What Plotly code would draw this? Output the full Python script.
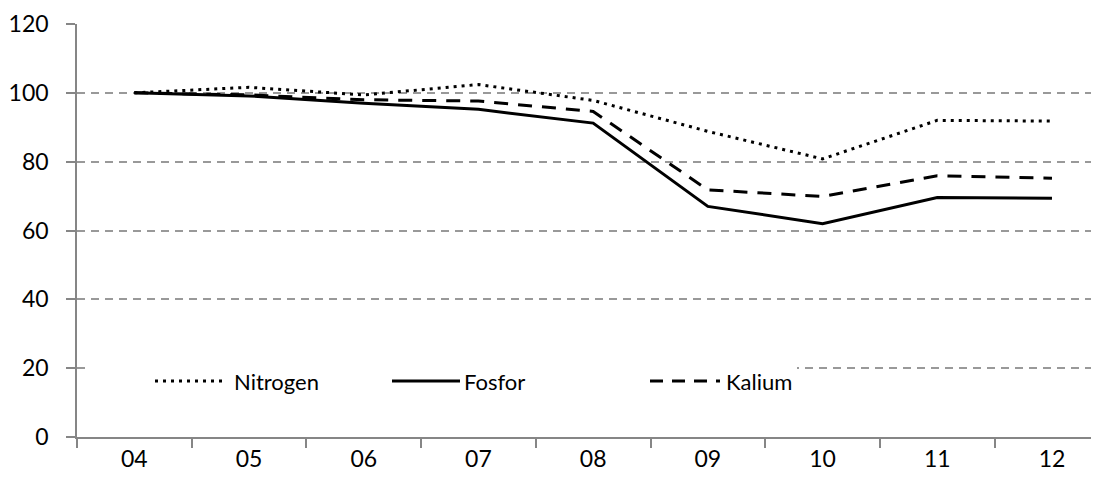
import plotly.graph_objects as go

years = ["04", "05", "06", "07", "08", "09", "10", "11", "12"]
nitrogen = [100, 101.6, 99.4, 102.4, 97.8, 88.8, 80.8, 92.0, 91.8]
fosfor = [100, 99.1, 97.0, 95.2, 91.2, 67.0, 62.0, 69.6, 69.4]
kalium = [100, 99.4, 98.0, 97.6, 94.6, 71.8, 69.9, 75.9, 75.2]

y_ticks = [0, 20, 40, 60, 80, 100, 120]

FONT = "Lato"
# the page body adds an 8px margin, so the figure is 8px smaller than the window
W, H = 1091, 474
L, T, B = 69, 16, 45
PW, PH = W - L, H - T - B
OFF = 8


# convert window pixels to paper coords
def px_x(p):
    return (p - OFF - L) / PW


def px_y(p):
    return (H - B + OFF - p) / PH


series = [
    ("Nitrogen", nitrogen, "3px,5px"),
    ("Fosfor", fosfor, "solid"),
    ("Kalium", kalium, "14px,10px"),
]
legend_dash = {"Kalium": "13px,9px"}

fig = go.Figure()
for name, values, dash in series:
    fig.add_trace(
        go.Scatter(
            x=years, y=values, mode="lines", name=name,
            line=dict(color="black", width=3, dash=dash),
            showlegend=False,
        )
    )

# hand-made legend, Excel style (wide line samples on a white box)
shapes = [
    dict(type="rect", xref="paper", yref="paper",
         x0=px_x(90), x1=px_x(797), y0=px_y(400), y1=px_y(358),
         fillcolor="white", line=dict(width=0), layer="above"),
]
legend_pos = [(155, 225, 232), (392, 460, 462), (650, 720, 724)]
annotations = []
for (name, _, dash), (x0, x1, xt) in zip(series, legend_pos):
    shapes.append(dict(type="line", xref="paper", yref="paper",
                       x0=px_x(x0), x1=px_x(x1), y0=px_y(381), y1=px_y(381),
                       line=dict(color="black", width=3,
                                 dash=legend_dash.get(name, dash)),
                       layer="above"))
    annotations.append(dict(text=name, xref="paper", yref="paper",
                            x=px_x(xt), y=px_y(381), xanchor="left",
                            yanchor="middle", showarrow=False,
                            font=dict(family=FONT, size=22, color="black")))

fig.update_layout(
    width=W, height=H,
    margin=dict(l=L, r=0, t=T, b=B),
    paper_bgcolor="white", plot_bgcolor="white",
    font=dict(family=FONT, size=23, color="black"),
    shapes=shapes, annotations=annotations,
    xaxis=dict(
        type="category", range=[-0.5, 8.41],
        showgrid=False, showline=True, linecolor="#868686", linewidth=1.5,
        ticks="outside", tickson="boundaries", ticklen=9, tickcolor="#868686",
        tickwidth=1.5, ticklabelstandoff=1,
    ),
    yaxis=dict(
        range=[0, 120], tickvals=y_ticks,
        showgrid=True, gridcolor="#999999", gridwidth=1.6, griddash="8px,6px",
        showline=True, linecolor="#868686", linewidth=1.5,
        ticks="outside", ticklen=9, tickcolor="#868686", tickwidth=1.5,
        ticklabelstandoff=13, zeroline=False,
    ),
)

fig.write_html("out.html")
